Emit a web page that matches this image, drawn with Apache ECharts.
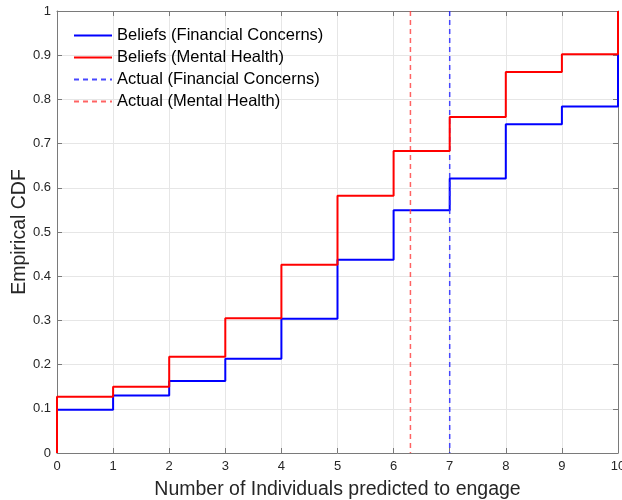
<!DOCTYPE html>
<html>
<head>
<meta charset="utf-8">
<script src="https://cdn.jsdelivr.net/npm/echarts@6/dist/echarts.min.js"></script>
<style>html,body{margin:0;padding:0;background:#fff}#c{width:622px;height:500px}</style>
</head>
<body>
<div id="c"></div>
<script>
const xSteps = [0, 1, 2, 3, 4, 5, 6, 7, 8, 9, 10];
const financialBeliefs = [0.098, 0.130, 0.163, 0.213, 0.304, 0.437, 0.549, 0.621, 0.744, 0.784, 1.0];
const mentalBeliefs = [0.127, 0.150, 0.218, 0.305, 0.426, 0.582, 0.683, 0.760, 0.862, 0.902, 1.0];
const actualFinancial = 7;
const actualMental = 6.3;
const yTicks = [0, 0.1, 0.2, 0.3, 0.4, 0.5, 0.6, 0.7, 0.8, 0.9, 1];
const names = ['Beliefs (Financial Concerns)', 'Beliefs (Mental Health)', 'Actual (Financial Concerns)', 'Actual (Mental Health)'];

function stairs(vals) {
  const d = [[xSteps[0], 0]];
  xSteps.forEach((x, i) => d.push([x, vals[i]]));
  return d;
}
const font = 'Liberation Sans, Arial, sans-serif';
const axisCol = '#7a7a7a';
const labelCol = '#262626';
const chart = echarts.init(document.getElementById('c'), null, {renderer: 'canvas'});
const xCommon = {
  type: 'value', min: 0, max: 10, interval: 1,
  axisLine: {show: true, onZero: false, lineStyle: {color: axisCol, width: 1}},
  axisTick: {show: true, inside: true, length: 5, lineStyle: {color: axisCol}},
};
const yCommon = {
  type: 'value', min: 0, max: 1, interval: 0.1,
  axisLine: {show: true, onZero: false, lineStyle: {color: axisCol, width: 1}},
  axisTick: {show: true, inside: true, length: 5, lineStyle: {color: axisCol}},
};
chart.setOption({
  animation: false,
  grid: {left: 57, right: 4, top: 11, bottom: 47, containLabel: false, outerBoundsMode: 'none'},
  legend: {
    orient: 'vertical', left: 68, top: 22, itemWidth: 38, itemHeight: 14, itemGap: 5,
    itemStyle: {opacity: 0},
    textStyle: {fontFamily: font, fontSize: 16.5, color: '#000'},
    data: names
  },
  xAxis: [
    Object.assign({}, xCommon, {
      position: 'bottom',
      name: 'Number of Individuals predicted to engage', nameLocation: 'middle', nameGap: 27,
      nameTextStyle: {fontFamily: font, fontSize: 19.5, color: labelCol},
      axisLabel: {fontFamily: font, fontSize: 13, color: labelCol, margin: 7},
      splitLine: {show: true, lineStyle: {color: '#e6e6e6', width: 1}}
    }),
    Object.assign({}, xCommon, {position: 'top', axisLabel: {show: false}, splitLine: {show: false}})
  ],
  yAxis: [
    Object.assign({}, yCommon, {
      position: 'left',
      name: 'Empirical CDF', nameLocation: 'middle', nameGap: 27, nameRotate: 90, nameMoveOverlap: false,
      nameTextStyle: {fontFamily: font, fontSize: 19.5, color: labelCol},
      axisLabel: {fontFamily: font, fontSize: 13, color: labelCol, margin: 6,
        formatter: v => { const t = yTicks.find(k => Math.abs(k - v) < 1e-9); return t === undefined ? '' : String(t); }},
      splitLine: {show: true, lineStyle: {color: '#e6e6e6', width: 1}}
    }),
    Object.assign({}, yCommon, {position: 'right', axisLabel: {show: false}, splitLine: {show: false}})
  ],
  series: [
    {name: names[0], type: 'line', step: 'end', symbol: 'none', data: stairs(financialBeliefs),
      lineStyle: {color: '#0000ff', width: 2}, itemStyle: {color: '#0000ff'}, z: 3},
    {name: names[1], type: 'line', step: 'end', symbol: 'none', data: stairs(mentalBeliefs),
      lineStyle: {color: '#ff0000', width: 2}, itemStyle: {color: '#ff0000'}, z: 5},
    {name: names[2], type: 'line', symbol: 'none', data: [[actualFinancial, 1], [actualFinancial, 0]],
      lineStyle: {color: 'rgba(40,40,255,0.85)', width: 1.5, type: [5, 4]}, itemStyle: {color: 'rgba(40,40,255,0.85)'}, z: 4},
    {name: names[3], type: 'line', symbol: 'none', data: [[actualMental, 1], [actualMental, 0]],
      lineStyle: {color: 'rgba(255,60,60,0.8)', width: 1.5, type: [5, 4]}, itemStyle: {color: 'rgba(255,60,60,0.8)'}, z: 4}
  ]
});
</script>
</body>
</html>
